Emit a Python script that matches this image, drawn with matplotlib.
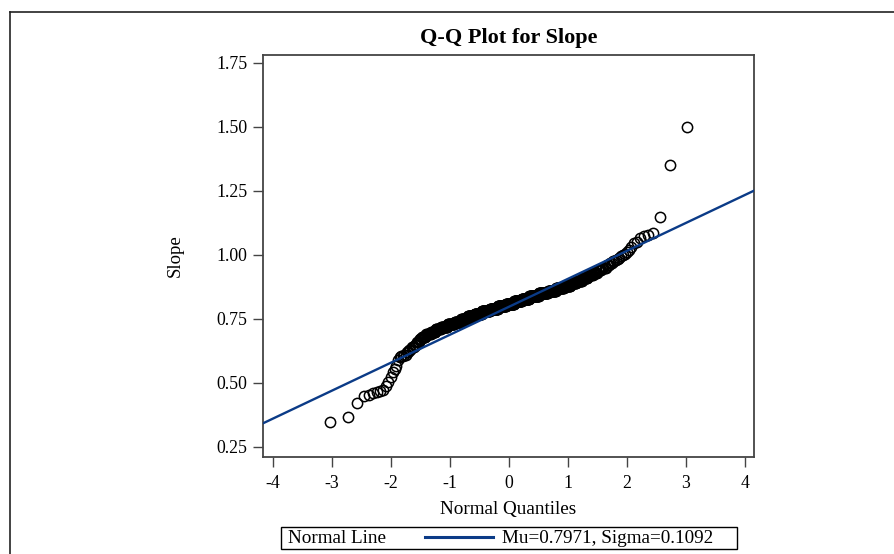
import numpy as np
import matplotlib
matplotlib.use("Agg")
import matplotlib.pyplot as plt
from matplotlib.lines import Line2D
from matplotlib.patches import Rectangle
from statistics import NormalDist

plt.rcParams["font.family"] = ["Liberation Serif", "DejaVu Serif"]

# sorted slope values: lower tail, binned middle (value, count), upper tail
low_tail = [0.347, 0.368, 0.421, 0.449, 0.455, 0.460, 0.465, 0.468, 0.472, 0.490,
            0.505, 0.525, 0.544, 0.556, 0.565, 0.590, 0.600, 0.604, 0.607, 0.610]
mid_values = [0.61, 0.62, 0.63, 0.64, 0.65, 0.66, 0.67, 0.68, 0.69, 0.70,
              0.71, 0.72, 0.73, 0.74, 0.75, 0.76, 0.77, 0.78, 0.79, 0.80,
              0.81, 0.82, 0.83, 0.84, 0.85, 0.86, 0.87, 0.88, 0.89, 0.90,
              0.91, 0.92, 0.93, 0.94, 0.95, 0.96, 0.97]
mid_counts = [1, 2, 2, 3, 2, 3, 3, 5, 7, 7,
              9, 13, 15, 16, 17, 19, 22, 26, 27, 28,
              28, 26, 25, 30, 27, 21, 19, 14, 11, 10,
              8, 7, 5, 5, 4, 3, 2]
high_tail = [0.975, 0.978, 0.980, 0.985, 0.990, 0.995, 1.000, 1.005, 1.010, 1.020,
             1.030, 1.045, 1.050, 1.065, 1.075, 1.080, 1.085, 1.150, 1.350, 1.500]

mu = 0.7971
sigma = 0.1092

x_ticks = [-4, -3, -2, -1, 0, 1, 2, 3, 4]
y_ticks = [0.25, 0.50, 0.75, 1.00, 1.25, 1.50, 1.75]

slope = np.concatenate([low_tail, np.repeat(mid_values, mid_counts), high_tail])
slope = np.sort(slope)
n = len(slope)
# Blom plotting positions
nd = NormalDist()
quantiles = np.array([nd.inv_cdf((i - 0.375) / (n + 0.25)) for i in range(1, n + 1)])

W, H = 894, 554
fig = plt.figure(figsize=(W / 100, H / 100), dpi=100)

# outer frame (top and left edges)
fig.add_artist(Line2D([10 / W, 1], [1 - 12 / H, 1 - 12 / H], transform=fig.transFigure,
                      color="#222222", lw=1.2))
fig.add_artist(Line2D([10 / W, 10 / W], [0, 1 - 12 / H], transform=fig.transFigure,
                      color="#222222", lw=1.2))

ax = fig.add_axes([263 / W, 1 - 457 / H, 491 / W, 402 / H])
ax.plot(quantiles, slope, "o", mfc="none", mec="black", ms=7.4, mew=1.1, zorder=2)
ax.axline((0, mu), slope=sigma, color="#0b3b87", lw=1.7, zorder=3)

ax.set_xlim(-4.163, 4.159)
ax.set_ylim(0.2109, 1.78125)
ax.set_xticks(x_ticks)
ax.set_xticklabels([str(t) for t in x_ticks])
ax.set_yticks(y_ticks)
ax.set_yticklabels([f"{t:.2f}" for t in y_ticks])
ax.tick_params(direction="out", length=7, width=1.0, color="#444444",
               labelsize=12.8, pad=4)
ax.tick_params(axis="x", pad=6)
for s in ax.spines.values():
    s.set_color("#444444")
    s.set_linewidth(1.3)

fig.text(508.5 / W, 1 - 43 / H, "Q-Q Plot for Slope", fontsize=16, fontweight="bold",
         ha="center", va="baseline")
ax.set_xlabel("Normal Quantiles", fontsize=13.8, va="baseline")
ax.xaxis.set_label_coords(0.5, -(514 - 457) / 402)
ax.set_ylabel("Slope", fontsize=13.5, va="center")
ax.yaxis.set_label_coords(-(263 - 175) / 491, 0.5)

# legend box at the bottom
fig.add_artist(Rectangle((281 / W, 1 - 549 / H), (737 - 281) / W, 22 / H,
                         transform=fig.transFigure, fill=False, ec="black", lw=1.0))
fig.text(288 / W, 1 - 543 / H, "Normal Line", fontsize=13.8, va="baseline", ha="left")
fig.add_artist(Line2D([425 / W, 493 / W], [1 - 537 / H, 1 - 537 / H],
                      transform=fig.transFigure, color="#0b3b87", lw=2.2))
fig.text(502 / W, 1 - 543 / H, f"Mu={mu:.4f}, Sigma={sigma:.4f}", fontsize=13.8,
         va="baseline", ha="left")

fig.savefig("out.png", dpi=100)
